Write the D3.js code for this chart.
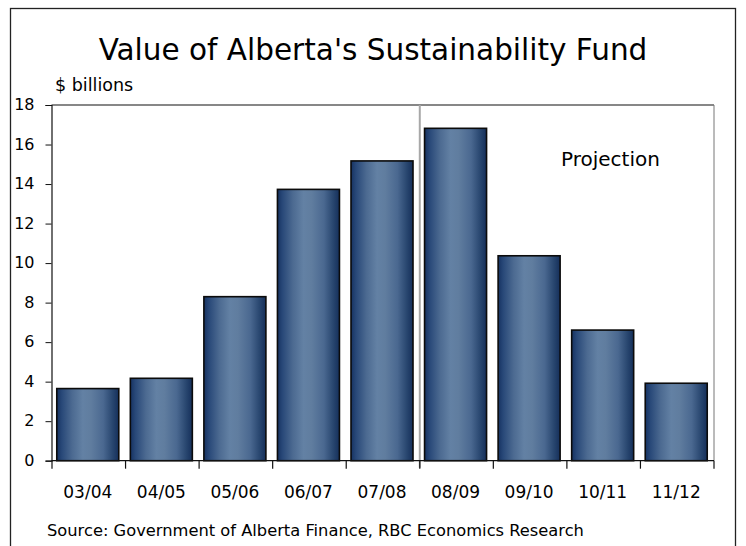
<!DOCTYPE html>
<html>
<head>
<meta charset="utf-8">
<script src="https://cdn.jsdelivr.net/npm/d3@7"></script>
<style>
    body { margin: 0; background: #fff; }
    text { font-family: "DejaVu Sans", sans-serif; fill: #000; }
</style>
</head>
<body>
<div id="wrapper"></div>
<script>

// 1. Data

const categories = ["03/04", "04/05", "05/06", "06/07", "07/08", "08/09", "09/10", "10/11", "11/12"]
const values = [3.65, 4.17, 8.3, 13.73, 15.17, 16.82, 10.37, 6.61, 3.92]
const yTicks = [0, 2, 4, 6, 8, 10, 12, 14, 16, 18]
const projectionStart = "08/09"

const title = "Value of Alberta's Sustainability Fund"
const unitLabel = "$ billions"
const projectionLabel = "Projection"
const sourceLabel = "Source: Government of Alberta Finance, RBC Economics Research"

// 2. Dimensions

const width = 746
const height = 546
const plot = { left: 51.5, right: 714, top: 105, bottom: 460.7 }

// 3. Canvas

const svg = d3.select("#wrapper")
    .append("svg")
    .attr("width", width)
    .attr("height", height)

// outer frame (bottom edge runs past the picture)
svg.append("rect")
    .attr("x", 10.5)
    .attr("y", 8.5)
    .attr("width", 725)
    .attr("height", 560)
    .attr("fill", "none")
    .attr("stroke", "#222")
    .attr("stroke-width", 1.3)

const defs = svg.append("defs")
const gradient = defs.append("linearGradient")
    .attr("id", "bar-gradient")
    .attr("x1", 0).attr("x2", 1)
    .attr("y1", 0).attr("y2", 0)
const stops = [
    [0, "#163261"], [0.08, "#284878"], [0.25, "#4c6a91"], [0.42, "#6381a4"],
    [0.55, "#607d9f"], [0.75, "#4a6890"], [0.9, "#28466f"], [1, "#152f5a"]
]
gradient.selectAll("stop")
    .data(stops)
    .join("stop")
    .attr("offset", d => d[0])
    .attr("stop-color", d => d[1])

// 4. Scales

const pad = 0.157
const xScale = d3.scaleBand()
    .domain(categories)
    .range([plot.left + 0.5, plot.right])
    .paddingInner(pad)
    .paddingOuter(pad / 2)

const yScale = d3.scaleLinear()
    .domain([0, 18])
    .range([plot.bottom, plot.top])

const step = xScale.step()
const boundary = d => xScale(d) - step * pad / 2

// 5. Frame + separator

svg.append("line")
    .attr("x1", plot.left).attr("x2", plot.right)
    .attr("y1", plot.top).attr("y2", plot.top)
    .attr("stroke", "#111").attr("stroke-width", 1.2)

svg.append("line")
    .attr("x1", plot.right).attr("x2", plot.right)
    .attr("y1", plot.top).attr("y2", plot.bottom)
    .attr("stroke", "#777").attr("stroke-width", 1)

svg.append("line")
    .attr("x1", boundary(projectionStart)).attr("x2", boundary(projectionStart))
    .attr("y1", plot.top).attr("y2", plot.bottom + 7)
    .attr("stroke", "#a8a8a8").attr("stroke-width", 2)

// 6. Bars

svg.selectAll(".bar")
    .data(values)
    .join("rect")
    .attr("class", "bar")
    .attr("x", (d, i) => xScale(categories[i]) - 1)
    .attr("y", d => yScale(d))
    .attr("width", xScale.bandwidth())
    .attr("height", d => plot.bottom - yScale(d))
    .attr("fill", "url(#bar-gradient)")
    .attr("stroke", "#0b0b0b")
    .attr("stroke-width", 1.6)

// 7. Axes

const yAxis = svg.append("g")
    .attr("transform", `translate(${plot.left},0)`)
    .call(d3.axisLeft(yScale).tickValues(yTicks).tickSize(6).tickPadding(11).tickFormat(d3.format("d")))
yAxis.select(".domain").attr("stroke", "#111").attr("stroke-width", 1.2)
yAxis.selectAll(".tick line").attr("stroke", "#111")
yAxis.selectAll("text")
    .attr("font-size", 16)
    .attr("dy", "0.3em")
    .style("font-family", null)

const xAxis = svg.append("g")
xAxis.append("line")
    .attr("x1", plot.left).attr("x2", plot.right)
    .attr("y1", plot.bottom).attr("y2", plot.bottom)
    .attr("stroke", "#111").attr("stroke-width", 1.2)
xAxis.selectAll(".xtick")
    .data(categories.concat(["end"]))
    .join("line")
    .attr("class", "xtick")
    .attr("x1", (d, i) => i < categories.length ? boundary(d) : plot.right)
    .attr("x2", (d, i) => i < categories.length ? boundary(d) : plot.right)
    .attr("y1", plot.bottom)
    .attr("y2", plot.bottom + 8)
    .attr("stroke", "#111")
    .attr("stroke-width", 1.2)
xAxis.selectAll(".xlabel")
    .data(categories)
    .join("text")
    .attr("class", "xlabel")
    .attr("x", d => xScale(d) + xScale.bandwidth() / 2 - 1)
    .attr("y", 498)
    .attr("text-anchor", "middle")
    .attr("font-size", 17)
    .text(d => d)

// 8. Peripherals

svg.append("text")
    .attr("x", 373)
    .attr("y", 60)
    .attr("text-anchor", "middle")
    .attr("font-size", 29.5)
    .text(title)

svg.append("text")
    .attr("x", 55)
    .attr("y", 91)
    .attr("font-size", 17.5)
    .text(unitLabel)

svg.append("text")
    .attr("x", 561)
    .attr("y", 166)
    .attr("font-size", 20)
    .text(projectionLabel)

svg.append("text")
    .attr("x", 47)
    .attr("y", 536)
    .attr("font-size", 16.3)
    .text(sourceLabel)

</script>
</body>
</html>
